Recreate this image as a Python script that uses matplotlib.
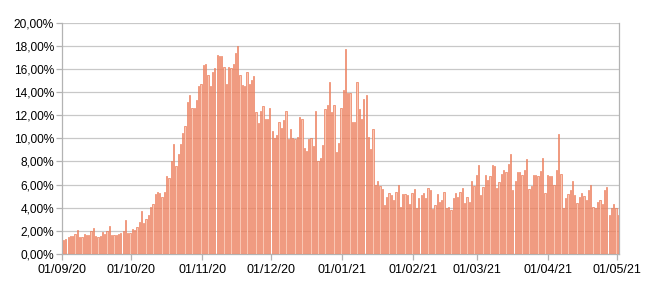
import matplotlib
matplotlib.use("Agg")
import matplotlib.pyplot as plt
from matplotlib.ticker import FuncFormatter
import numpy as np

# daily positivity rate (%), 01/09/20 .. 01/05/21
sep = [1.2, 1.3, 1.5, 1.55, 1.6, 1.7, 2.1, 1.5, 1.5, 1.7, 1.65, 1.65, 2.0, 2.25, 1.6,
       1.5, 1.6, 1.9, 1.7, 2.0, 2.4, 1.65, 1.65, 1.65, 1.75, 1.8, 2.0, 2.95, 1.85, 1.8]
oct_ = [2.2, 2.1, 2.35, 2.8, 3.7, 2.7, 3.0, 3.4, 4.1, 4.3, 5.2, 5.4, 5.3, 4.9, 5.4, 6.7,
        6.6, 8.0, 9.5, 7.6, 8.6, 9.5, 10.5, 11.1, 13.1, 13.7, 12.6, 12.6, 13.3, 14.5, 14.7]
nov = [16.3, 16.4, 15.5, 14.5, 15.7, 16.1, 17.2, 17.1, 17.1, 16.2, 14.7, 16.2, 16.1, 16.4,
       17.4, 18.0, 15.5, 14.6, 14.5, 15.7, 14.7, 15.0, 15.4, 12.3, 11.3, 12.4, 12.8, 11.7,
       11.7, 12.6]
dec = [10.6, 10.0, 10.3, 11.4, 10.9, 11.6, 12.4, 9.9, 10.8, 10.0, 9.9, 10.1, 11.8, 11.7,
       9.2, 8.9, 9.9, 10.0, 9.3, 12.4, 8.0, 8.3, 9.4, 12.5, 12.9, 14.9, 12.3, 12.9, 8.8,
       9.6, 12.6]
jan = [14.2, 17.7, 13.9, 13.9, 11.4, 11.4, 14.9, 12.5, 11.7, 13.4, 13.7, 10.1, 9.1, 10.8,
       6.0, 6.3, 5.9, 5.6, 4.2, 4.9, 5.3, 5.1, 4.7, 5.4, 6.0, 4.1, 5.2, 5.2, 5.1, 4.3, 5.3]
feb = [5.6, 4.0, 4.8, 5.1, 5.3, 4.8, 5.7, 5.5, 3.9, 4.2, 5.2, 4.5, 4.7, 5.4, 4.0, 4.1,
       3.8, 4.8, 5.3, 4.9, 5.4, 5.7, 4.4, 4.9, 4.5, 6.3, 5.9, 6.8]
mar = [7.7, 5.1, 5.8, 6.8, 6.4, 6.7, 7.7, 7.6, 5.7, 6.2, 6.9, 7.3, 7.1, 7.8, 8.6, 5.5,
       6.3, 7.1, 7.1, 6.8, 7.3, 8.2, 5.6, 5.9, 6.8, 6.8, 6.7, 7.2, 8.3, 5.3, 6.8]
apr_may = [6.7, 6.7, 6.0, 7.3, 10.4, 6.9, 4.0, 4.8, 5.2, 5.5, 6.3, 5.1, 4.4, 4.9, 5.3,
           5.0, 4.7, 5.5, 6.0, 4.1, 4.0, 4.5, 4.7, 4.3, 5.5, 5.8, 3.4, 4.0, 4.3, 4.0, 3.4]

values = sep + oct_ + nov + dec + jan + feb + mar + apr_may

tick_days = [0, 30, 61, 91, 122, 153, 181, 212, 242]
tick_labels = ["01/09/20", "01/10/20", "01/11/20", "01/12/20", "01/01/21",
               "01/02/21", "01/03/21", "01/04/21", "01/05/21"]

plt.rcParams['font.family'] = ['Liberation Sans', 'DejaVu Sans']

fig = plt.figure(figsize=(6.5, 2.93), dpi=100)
ax = fig.add_axes([0.096, 0.133, 0.857, 0.790])

x = np.arange(len(values)) + 0.5
ax.bar(x, values, width=0.55, color='#fac6b2', edgecolor='#e8643c', linewidth=0.4,
       zorder=3)

ax.set_xlim(0, len(values))
ax.set_ylim(0, 20)
ax.set_yticks(np.arange(0, 21, 2))
ax.yaxis.set_major_formatter(FuncFormatter(lambda v, p: f"{v:.2f}".replace('.', ',') + "%"))
ax.set_xticks(tick_days)
ax.set_xticklabels(tick_labels)

ax.grid(axis='y', color='#c8c8c8', linewidth=0.9, zorder=0)
for s in ['left', 'bottom', 'right']:
    ax.spines[s].set_color('#b3b3b3')
    ax.spines[s].set_linewidth(0.9)
ax.spines['top'].set_visible(False)
ax.tick_params(axis='both', colors='#b3b3b3', length=4, width=0.9, labelcolor='black')
ax.tick_params(axis='y', labelsize=8.6, pad=2)
ax.tick_params(axis='x', labelsize=9, pad=3)

fig.savefig("out.png", dpi=100)
